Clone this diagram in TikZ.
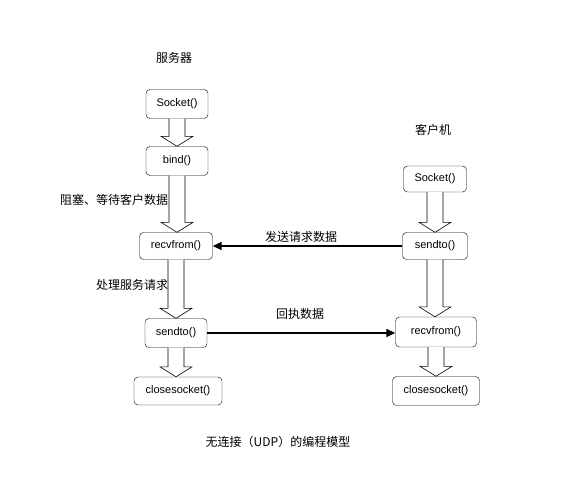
\documentclass[tikz,border=0pt]{standalone}
\usepackage{fontspec}
\setmainfont{Liberation Sans}
\newfontfamily\cjk{Noto Sans CJK SC}
\usetikzlibrary{arrows.meta,calc}
\definecolor{ink}{HTML}{000000}
\tikzset{
  fn/.style={draw=ink,rounded corners=4pt,minimum height=29pt,inner sep=2pt,font=\fontsize{11}{13}\selectfont},
  hd/.style={font=\cjk\fontsize{12}{14}\selectfont},
  fat/.style={draw=ink,fill=white,line width=0.6pt,line join=miter},
  msg/.style={draw=ink,line width=1.5pt,-{Triangle[length=9pt,width=8pt]}},
}
% hollow block arrow from the bottom of #1 to the top of #2
\newcommand{\fatarrow}[2]{%
  \draw[fat] ($(#1.south)+(-8,0)$) -- ($(#1.south |- #2.north)+(-8,-10)$)
    -- ($(#1.south |- #2.north)+(-16,-10)$) -- ($(#1.south |- #2.north)$)
    -- ($(#1.south |- #2.north)+(16,-10)$) -- ($(#1.south |- #2.north)+(8,-10)$)
    -- ($(#1.south)+(8,0)$);}

\begin{document}
\begin{tikzpicture}[x=1pt,y=-1pt]
  \useasboundingbox (0,0) rectangle (576,482);
  % ---------- server ----------
  \node[hd] (srv) at (174,58) {服务器};
  \node[fn,minimum width=62pt] (ssock) at (177,104) {Socket()};
  \node[fn,minimum width=62pt] (sbind) at (177,161) {bind()};
  \node[fn,minimum width=73pt,minimum height=27pt] (srecv) at (176,246) {recvfrom()};
  \node[fn,minimum width=62pt] (ssend) at (176,333) {sendto()};
  \node[fn,minimum width=88pt,minimum height=28pt] (sclose) at (178,391) {closesocket()};
  \fatarrow{ssock}{sbind}
  \fatarrow{sbind}{srecv}
  \fatarrow{srecv}{ssend}
  \fatarrow{ssend}{sclose}
  \node[hd] (wait) at (114,200) {阻塞、等待客户数据};
  \node[hd] (proc) at (132,285) {处理服务请求};
  % ---------- client ----------
  \node[hd] (cli) at (433,130) {客户机};
  \node[fn,minimum width=63pt,minimum height=26pt] (csock) at (435,179) {Socket()};
  \node[fn,minimum width=65pt,minimum height=27pt] (csend) at (435,246) {sendto()};
  \node[fn,minimum width=81pt,minimum height=30pt] (crecv) at (436,332) {recvfrom()};
  \node[fn,minimum width=87pt,minimum height=29pt] (cclose) at (436,391) {closesocket()};
  \fatarrow{csock}{csend}
  \fatarrow{csend}{crecv}
  \fatarrow{crecv}{cclose}
  % ---------- messages ----------
  \draw[msg] (csend.west) -- (srecv.east);
  \draw[msg] (ssend.east) -- (ssend.east -| crecv.west);
  \node[hd] (req) at (301,237) {发送请求数据};
  \node[hd] (ack) at (300,314) {回执数据};
  \node[hd] (title) at (278,442) {无连接（UDP）的编程模型};
\end{tikzpicture}
\end{document}
